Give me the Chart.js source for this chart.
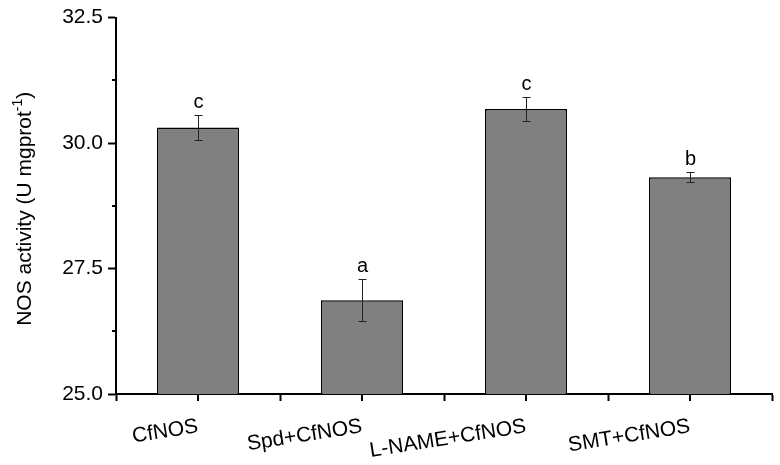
<!DOCTYPE html>
<html>
<head>
<meta charset="utf-8">
<script src="https://cdn.jsdelivr.net/npm/chart.js@4"></script>
<style>
  body { margin: 0; background: #fff; }
  #wrap { width: 780px; height: 465px; }
</style>
</head>
<body>
<div id="wrap"><canvas id="myChart"></canvas></div>
<script>
var categories = ['CfNOS', 'Spd+CfNOS', 'L-NAME+CfNOS', 'SMT+CfNOS'];
var means = [30.31, 26.87, 30.68, 29.32];
var errors = [0.25, 0.42, 0.24, 0.10];
var letters = ['c', 'a', 'c', 'b'];
var yMin = 25.0;
var yMax = 32.5;
var yStep = 1.25;

var fontFamily = '"Liberation Sans", Arial, sans-serif';

function isMajor(v) {
    return Math.abs(v / 2.5 - Math.round(v / 2.5)) < 1e-6;
}

// error bars, letters, minor ticks and axis title
var extras = {
    id: 'extras',
    afterDatasetsDraw: function (chart) {
        var ctx = chart.ctx;
        var x = chart.scales.x;
        var y = chart.scales.y;
        ctx.save();

        // error bars + significance letters
        ctx.strokeStyle = '#222';
        ctx.lineWidth = 1;
        ctx.fillStyle = '#000';
        ctx.font = '20px ' + fontFamily;
        ctx.textAlign = 'center';
        ctx.textBaseline = 'alphabetic';
        means.forEach(function (m, i) {
            var cx = Math.round(x.getPixelForValue(i)) + 0.5;
            var top = Math.round(y.getPixelForValue(m + errors[i])) + 0.5;
            var bot = Math.round(y.getPixelForValue(m - errors[i])) + 0.5;
            ctx.beginPath();
            ctx.moveTo(cx, top); ctx.lineTo(cx, bot);
            ctx.moveTo(cx - 4, top); ctx.lineTo(cx + 4, top);
            ctx.moveTo(cx - 4, bot); ctx.lineTo(cx + 4, bot);
            ctx.stroke();
            ctx.fillText(letters[i], cx, top - 8);
        });

        // x ticks at the category centres
        ctx.strokeStyle = '#000';
        ctx.lineWidth = 2;
        ctx.beginPath();
        categories.forEach(function (c, i) {
            var cx = Math.round(x.getPixelForValue(i));
            ctx.moveTo(cx, x.top); ctx.lineTo(cx, x.top + 7);
        });
        // minor y ticks
        for (var v = yMin; v <= yMax + 1e-6; v += yStep) {
            if (isMajor(v)) continue;
            var py = Math.round(y.getPixelForValue(v));
            ctx.moveTo(y.right - 4, py); ctx.lineTo(y.right, py);
        }
        ctx.stroke();

        // y axis title with superscript
        var main = 'NOS activity (U mgprot';
        var sup = '-1';
        var close = ')';
        ctx.font = '21px ' + fontFamily;
        var w1 = ctx.measureText(main).width;
        var w3 = ctx.measureText(close).width;
        ctx.font = '14px ' + fontFamily;
        var w2 = ctx.measureText(sup).width;
        var total = w1 + w2 + w3;
        ctx.translate(31, (chart.chartArea.top + chart.chartArea.bottom) / 2 + 3);
        ctx.rotate(-Math.PI / 2);
        ctx.textAlign = 'left';
        ctx.font = '21px ' + fontFamily;
        ctx.fillText(main, -total / 2, 0);
        ctx.font = '14px ' + fontFamily;
        ctx.fillText(sup, -total / 2 + w1, -9);
        ctx.font = '21px ' + fontFamily;
        ctx.fillText(close, -total / 2 + w1 + w2, 0);
        ctx.restore();
    }
};

var ctx = document.getElementById('myChart').getContext('2d');
var myChart = new Chart(ctx, {
    type: 'bar',
    data: {
        labels: categories,
        datasets: [{
            data: means,
            backgroundColor: '#808080',
            borderColor: '#000',
            borderWidth: 1.5,
            barPercentage: 0.5,
            categoryPercentage: 1.0
        }]
    },
    options: {
        responsive: true,
        maintainAspectRatio: false,
        animation: false,
        layout: { padding: { top: 17, right: 8, left: 0, bottom: 0 } },
        plugins: {
            legend: { display: false },
            tooltip: { enabled: false }
        },
        scales: {
            x: {
                grid: {
                    offset: true,
                    drawOnChartArea: false,
                    tickLength: 7,
                    tickWidth: 2,
                    tickColor: '#000'
                },
                border: { color: '#000', width: 2 },
                ticks: {
                    color: '#000',
                    font: { family: fontFamily, size: 21 },
                    minRotation: 9,
                    maxRotation: 9,
                    padding: 13
                },
                afterFit: function (scale) { scale.height = 71; }
            },
            y: {
                min: yMin,
                max: yMax,
                grid: {
                    drawOnChartArea: false,
                    tickLength: 8,
                    tickWidth: 2,
                    tickColor: function (c) {
                        return isMajor(c.tick.value) ? '#000' : 'rgba(0,0,0,0)';
                    }
                },
                border: { color: '#000', width: 2 },
                ticks: {
                    stepSize: yStep,
                    color: '#000',
                    font: { family: fontFamily, size: 21 },
                    padding: 5,
                    callback: function (v) {
                        return isMajor(v) ? v.toFixed(1) : '';
                    }
                },
                afterFit: function (scale) { scale.width = 116; }
            }
        }
    },
    plugins: [extras]
});
</script>
</body>
</html>
